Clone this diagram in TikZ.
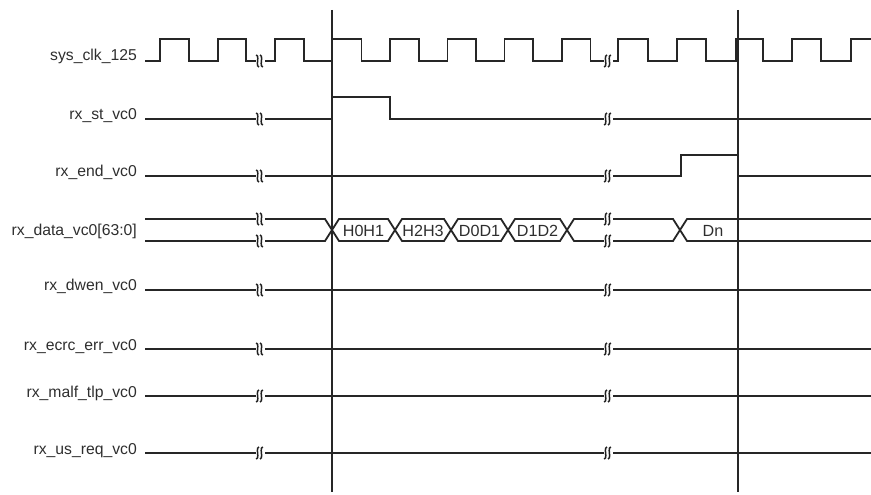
\documentclass[tikz,border=0pt]{standalone}
\usepackage{fontspec}
\setmainfont{Liberation Sans}
\newcommand\brkmark[3]{%
  \fill[white] (#1-3.5,#2-8) rectangle (#1+5.5,#2+8);
  \ifx s#3
    \draw[brk] (#1-2.8,#2-6) to[out=0,in=90] (#1-1.2,#2-2.5) -- (#1-1.6,#2+2.5) to[out=-90,in=180] (#1,#2+6);
    \draw[brk] (#1+1.0,#2-6) to[out=0,in=90] (#1+2.6,#2-2.5) -- (#1+2.2,#2+2.5) to[out=-90,in=180] (#1+3.8,#2+6);
  \else
    \draw[brk] (#1,#2-6) to[out=180,in=90] (#1-1.6,#2-2.5) -- (#1-1.2,#2+2.5) to[out=-90,in=0] (#1-2.8,#2+6);
    \draw[brk] (#1+3.8,#2-6) to[out=180,in=90] (#1+2.2,#2-2.5) -- (#1+2.6,#2+2.5) to[out=-90,in=0] (#1+1.0,#2+6);
  \fi}
\begin{document}
\begin{tikzpicture}[x=1bp,y=-1bp,
  sig/.style={line width=1.8bp, draw=black!85, line join=miter},
  vline/.style={line width=1.7bp, draw=black!85},
  brk/.style={line width=1.5bp, draw=black!88},
  lbl/.style={anchor=base east, inner sep=0pt, font=\fontsize{15.8}{18}\selectfont, text=black!82},
  dlbl/.style={anchor=center, inner sep=0pt, font=\fontsize{16.2}{18}\selectfont, text=black!82}]
\useasboundingbox (0,0) rectangle (871,495);
% labels
\node[lbl] (lclk) at (137,61) {sys\_clk\_125};
\node[lbl] (lst) at (137,120) {rx\_st\_vc0};
\node[lbl] (lend) at (137,177) {rx\_end\_vc0};
\node[lbl] (ldata) at (137,236) {rx\_data\_vc0[63:0]};
\node[lbl] (ldwen) at (137,291) {rx\_dwen\_vc0};
\node[lbl] (lecrc) at (137,350) {rx\_ecrc\_err\_vc0};
\node[lbl] (lmalf) at (137,397) {rx\_malf\_tlp\_vc0};
\node[lbl] (lusreq) at (137,454) {rx\_us\_req\_vc0};

% clock
\draw[sig] (145,61) -- (160,61) -- (160,39) -- (189,39) -- (189,61) -- (218,61) -- (218,39) -- (246,39) -- (246,61)
  -- (275,61) -- (275,39) -- (304,39) -- (304,61) -- (332,61) -- (332,39) -- (361.5,39) -- (361.5,61) -- (390,61)
  -- (390,39) -- (419,39) -- (419,61) -- (447.5,61) -- (447.5,39) -- (476,39) -- (476,61) -- (504.5,61) -- (504.5,39)
  -- (533,39) -- (533,61) -- (562,61) -- (562,39) -- (590.5,39) -- (590.5,61) -- (618,61) -- (618,39) -- (648,39)
  -- (648,61) -- (677,61) -- (677,39) -- (706,39) -- (706,61) -- (736,61) -- (736,39) -- (763,39) -- (763,61)
  -- (792,61) -- (792,39) -- (821,39) -- (821,61) -- (851,61) -- (851,39) -- (871,39);
\brkmark{259}{61}{s}
\brkmark{607}{61}{f}

% rx_st
\draw[sig] (145,119) -- (332,119) -- (332,97) -- (390,97) -- (390,119) -- (871,119);
\brkmark{259}{119}{s}
\brkmark{607}{119}{f}

% rx_end
\draw[sig] (145,176) -- (681,176) -- (681,155) -- (738,155) -- (738,176) -- (871,176);
\brkmark{259}{176}{s}
\brkmark{607}{176}{f}

% data bus
\draw[sig] (145,219) -- (325,219) -- (339,241) -- (388,241) -- (402,219) -- (444,219) -- (458,241) -- (501,241)
  -- (515,219) -- (560,219) -- (574,241) -- (673,241) -- (687,219) -- (871,219);
\draw[sig] (145,241) -- (325,241) -- (339,219) -- (388,219) -- (402,241) -- (444,241) -- (458,219) -- (501,219)
  -- (515,241) -- (560,241) -- (574,219) -- (673,219) -- (687,241) -- (871,241);
\brkmark{259}{219}{s}
\brkmark{259}{241}{s}
\brkmark{607}{219}{f}
\brkmark{607}{241}{f}
\node[dlbl] (d0) at (363.5,230.5) {H0H1};
\node[dlbl] (d1) at (423,230.5) {H2H3};
\node[dlbl] (d2) at (479.5,230.5) {D0D1};
\node[dlbl] (d3) at (537.5,230.5) {D1D2};
\node[dlbl] (d4) at (713,230.5) {Dn};

% static signals
\draw[sig] (145,290) -- (871,290);
\brkmark{259}{290}{s}
\brkmark{607}{290}{f}
\draw[sig] (145,349) -- (871,349);
\brkmark{259}{349}{s}
\brkmark{607}{349}{f}
\draw[sig] (145,396) -- (871,396);
\brkmark{259}{396}{f}
\brkmark{607}{396}{f}
\draw[sig] (145,453) -- (871,453);
\brkmark{259}{453}{f}
\brkmark{607}{453}{f}

% vertical markers
\draw[vline] (332,10) -- (332,492);
\draw[vline] (738,10) -- (738,492);
\end{tikzpicture}
\end{document}
